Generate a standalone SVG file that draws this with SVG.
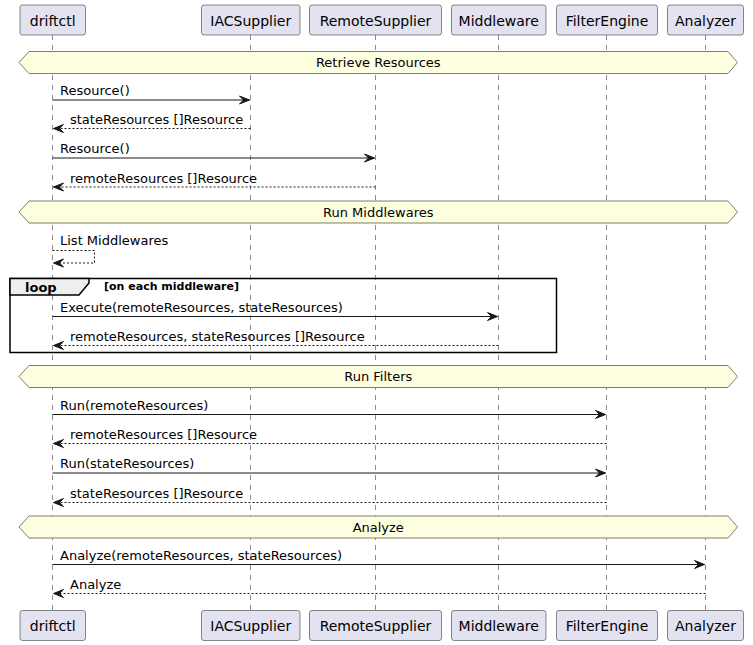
<svg xmlns="http://www.w3.org/2000/svg" width="753" height="645" viewBox="0 0 753 645">
<defs>
<style>
.part{fill:#E2E2F0;stroke:#181818;stroke-width:0.5}
.ptxt{font-family:"DejaVu Sans",sans-serif;font-size:14px;fill:#000;text-anchor:middle}
.life{stroke:#181818;stroke-width:0.5;stroke-dasharray:5,5;fill:none}
.div{fill:#FEFEE0;stroke:#7f7f6c;stroke-width:1}
.dtxt{font-family:"DejaVu Sans",sans-serif;font-size:13px;fill:#000;text-anchor:middle}
.msg{stroke:#181818;stroke-width:1;fill:none;marker-end:url(#ah)}
.ret{stroke:#181818;stroke-width:1;fill:none;stroke-dasharray:2,2;marker-end:url(#ah)}
.mtxt{font-family:"DejaVu Sans",sans-serif;font-size:13px;fill:#000}
.loop{fill:none;stroke:#000;stroke-width:1.5}
.tab{fill:#EEEEEE;stroke:#000;stroke-width:1.5}
.ltxt{font-family:"DejaVu Sans",sans-serif;font-size:13px;font-weight:bold;fill:#000}
.gtxt{font-family:"DejaVu Sans",sans-serif;font-size:11px;font-weight:bold;fill:#000}
</style>
<marker id="ah" markerUnits="userSpaceOnUse" viewBox="-1 -1 12 10" refX="10" refY="4" markerWidth="12" markerHeight="10" orient="auto">
<path d="M0,0 L10,4 L0,8 L4,4 Z" fill="#181818" stroke="#181818" stroke-width="1" stroke-linejoin="miter"/>
</marker>
</defs>
<rect width="753" height="645" fill="#FFFFFF"/>

<g id="lifelines">
<line class="life" x1="52.5" y1="35" x2="52.5" y2="610.5"/>
<line class="life" x1="250.5" y1="35" x2="250.5" y2="610.5"/>
<line class="life" x1="375.5" y1="35" x2="375.5" y2="610.5"/>
<line class="life" x1="498.5" y1="35" x2="498.5" y2="610.5"/>
<line class="life" x1="606.5" y1="35" x2="606.5" y2="610.5"/>
<line class="life" x1="705.5" y1="35" x2="705.5" y2="610.5"/>
</g>

<g id="driftctl">
<rect class="part" x="20" y="5" width="65.5" height="30" rx="2.5"/>
<text class="ptxt" x="52.75" y="25.5">driftctl</text>
<rect class="part" x="20" y="610.5" width="65.5" height="30" rx="2.5"/>
<text class="ptxt" x="52.75" y="631">driftctl</text>
</g>
<g id="IACSupplier">
<rect class="part" x="201.5" y="5" width="98.5" height="30" rx="2.5"/>
<text class="ptxt" x="250.75" y="25.5">IACSupplier</text>
<rect class="part" x="201.5" y="610.5" width="98.5" height="30" rx="2.5"/>
<text class="ptxt" x="250.75" y="631">IACSupplier</text>
</g>
<g id="RemoteSupplier">
<rect class="part" x="309.5" y="5" width="132" height="30" rx="2.5"/>
<text class="ptxt" x="375.5" y="25.5">RemoteSupplier</text>
<rect class="part" x="309.5" y="610.5" width="132" height="30" rx="2.5"/>
<text class="ptxt" x="375.5" y="631">RemoteSupplier</text>
</g>
<g id="Middleware">
<rect class="part" x="451.5" y="5" width="94.5" height="30" rx="2.5"/>
<text class="ptxt" x="498.75" y="25.5">Middleware</text>
<rect class="part" x="451.5" y="610.5" width="94.5" height="30" rx="2.5"/>
<text class="ptxt" x="498.75" y="631">Middleware</text>
</g>
<g id="FilterEngine">
<rect class="part" x="556.5" y="5" width="101" height="30" rx="2.5"/>
<text class="ptxt" x="607" y="25.5">FilterEngine</text>
<rect class="part" x="556.5" y="610.5" width="101" height="30" rx="2.5"/>
<text class="ptxt" x="607" y="631">FilterEngine</text>
</g>
<g id="Analyzer">
<rect class="part" x="667.5" y="5" width="76" height="30" rx="2.5"/>
<text class="ptxt" x="705.5" y="25.5">Analyzer</text>
<rect class="part" x="667.5" y="610.5" width="76" height="30" rx="2.5"/>
<text class="ptxt" x="705.5" y="631">Analyzer</text>
</g>

<g id="dividers">
<polygon class="div" points="19,62.5 29,51.5 728,51.5 737.5,62.5 728,73.5 29,73.5"/>
<text class="dtxt" x="378.25" y="67">Retrieve Resources</text>
<polygon class="div" points="19,212 29,201 728,201 737.5,212 728,223 29,223"/>
<text class="dtxt" x="378.25" y="216.5">Run Middlewares</text>
<polygon class="div" points="19,376.5 29,365.5 728,365.5 737.5,376.5 728,387.5 29,387.5"/>
<text class="dtxt" x="378.25" y="381">Run Filters</text>
<polygon class="div" points="19,527 29,516 728,516 737.5,527 728,538 29,538"/>
<text class="dtxt" x="378.25" y="531.5">Analyze</text>
</g>

<g id="loop">
<rect class="loop" x="10" y="278.5" width="546.5" height="74"/>
<polygon class="tab" points="10,278.5 89,278.5 89,283 79,295 10,295"/>
<text class="ltxt" x="25" y="291.5">loop</text>
<text class="gtxt" x="104" y="289.5">[on each middleware]</text>
</g>

<g id="connectors">
<line class="msg" x1="52.5" y1="100" x2="249.5" y2="100"/>
<text class="mtxt" x="60" y="95">Resource()</text>
<line class="ret" x1="250.5" y1="128.5" x2="53.5" y2="128.5"/>
<text class="mtxt" x="70" y="124">stateResources []Resource</text>
<line class="msg" x1="52.5" y1="158" x2="374.5" y2="158"/>
<text class="mtxt" x="60" y="153">Resource()</text>
<line class="ret" x1="375.5" y1="187" x2="53.5" y2="187"/>
<text class="mtxt" x="70" y="182.5">remoteResources []Resource</text>

<path class="ret" d="M52.5,250.5 H94.5 V263 H53.5"/>
<text class="mtxt" x="60" y="245">List Middlewares</text>

<line class="msg" x1="52.5" y1="316.5" x2="497.5" y2="316.5"/>
<text class="mtxt" x="60" y="311.5">Execute(remoteResources, stateResources)</text>
<line class="ret" x1="498.5" y1="345.5" x2="53.5" y2="345.5"/>
<text class="mtxt" x="70" y="341">remoteResources, stateResources []Resource</text>

<line class="msg" x1="52.5" y1="414.5" x2="605.5" y2="414.5"/>
<text class="mtxt" x="60" y="409.5">Run(remoteResources)</text>
<line class="ret" x1="606.5" y1="443.5" x2="53.5" y2="443.5"/>
<text class="mtxt" x="70" y="439">remoteResources []Resource</text>
<line class="msg" x1="52.5" y1="473" x2="605.5" y2="473"/>
<text class="mtxt" x="60" y="468">Run(stateResources)</text>
<line class="ret" x1="606.5" y1="502.5" x2="53.5" y2="502.5"/>
<text class="mtxt" x="70" y="498">stateResources []Resource</text>

<line class="msg" x1="52.5" y1="564.5" x2="704.5" y2="564.5"/>
<text class="mtxt" x="60" y="559.5">Analyze(remoteResources, stateResources)</text>
<line class="ret" x1="705.5" y1="593.5" x2="53.5" y2="593.5"/>
<text class="mtxt" x="70" y="589">Analyze</text>
</g>
</svg>
